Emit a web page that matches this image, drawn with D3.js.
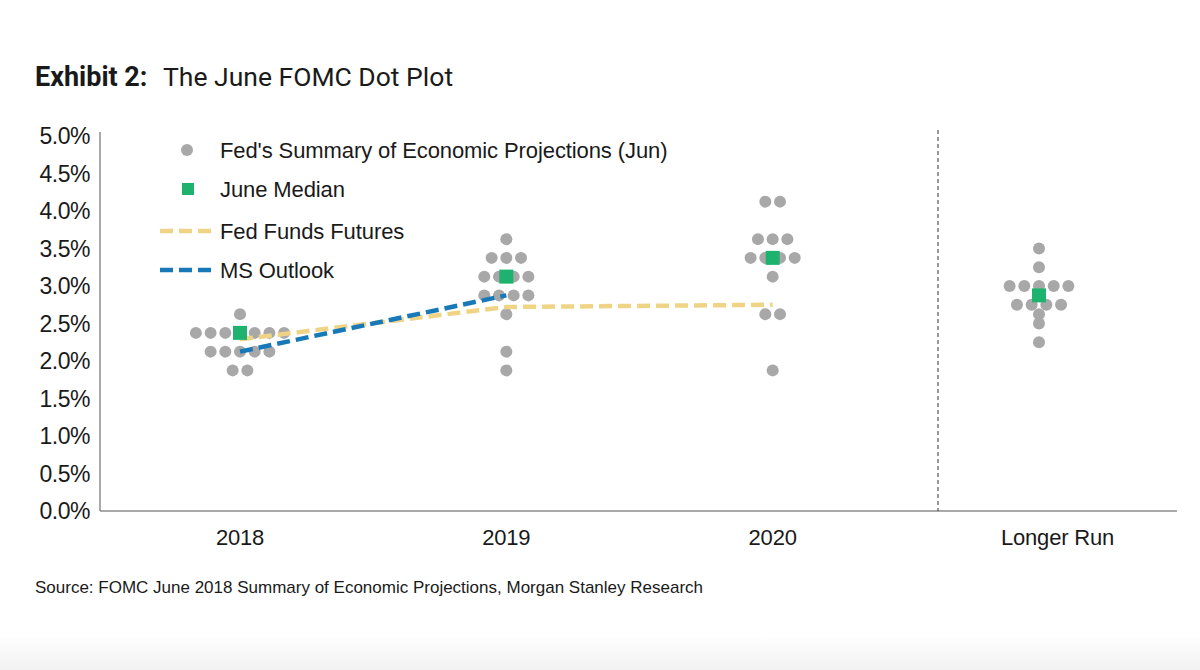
<!DOCTYPE html>
<html>
<head>
<meta charset="utf-8">
<script src="https://cdn.jsdelivr.net/npm/d3@7"></script>
<style>
  html, body { margin: 0; padding: 0; background: #fff; }
  svg { display: block; }
  text { font-family: "Liberation Sans", Arial, sans-serif; fill: #1a1a1a; }
</style>
</head>
<body>
<svg id="chart" width="1200" height="670"></svg>
<script>
// ---- data ----
const categories = ["2018", "2019", "2020", "Longer Run"];
const yTicks = [0, 0.5, 1, 1.5, 2, 2.5, 3, 3.5, 4, 4.5, 5];
// participant projections: [rate, count] per category
const dots2018 = [[2.625, 1], [2.375, 7], [2.125, 5], [1.875, 2]];
const dots2019 = [[3.625, 1], [3.375, 3], [3.125, 4], [2.875, 4], [2.625, 1], [2.125, 1], [1.875, 1]];
const dots2020 = [[4.125, 2], [3.625, 3], [3.375, 4], [3.125, 1], [2.625, 2], [1.875, 1]];
const dotsLonger = [[3.5, 1], [3.25, 1], [3.0, 5], [2.875, 1], [2.75, 4], [2.625, 1], [2.5, 1], [2.25, 1]];
const medians = [2.375, 3.125, 3.375, 2.875];
const futuresCats = ["2018", "2019", "2020"];
const futuresVals = [2.29, 2.72, 2.75];
const msCats = ["2018", "2019"];
const msVals = [2.125, 2.875];
const legendLabels = ["Fed's Summary of Economic Projections (Jun)", "June Median", "Fed Funds Futures", "MS Outlook"];

const dotSets = [dots2018, dots2019, dots2020, dotsLonger];

// ---- layout ----
const svg = d3.select("#chart");
const plotLeft = 100, plotRight = 1177, plotTop = 136, plotBottom = 511;
const dividerX = 938;

const x = d3.scalePoint().domain(categories).range([240, 1039]);
const y = d3.scaleLinear().domain([0, 5]).range([plotBottom, plotTop]);

const gray = "#a8a8a8", green = "#1db36e", yellow = "#f0d486", blue = "#1779b8";
const dotR = 6, dotStep = 14.7, sq = 14;

// bottom fade
const defs = svg.append("defs");
const grad = defs.append("linearGradient").attr("id", "fade").attr("x1", 0).attr("y1", 0).attr("x2", 0).attr("y2", 1);
grad.append("stop").attr("offset", "0%").attr("stop-color", "#ffffff");
grad.append("stop").attr("offset", "100%").attr("stop-color", "#f2f2f2");
svg.append("rect").attr("x", 0).attr("y", 635).attr("width", 1200).attr("height", 35).attr("fill", "url(#fade)");

// title
svg.append("text").attr("x", 35).attr("y", 86).style("font-family", "Roboto, sans-serif")
  .style("font-size", "27px").style("font-weight", "bold").attr("fill", "#333")
  .text("Exhibit 2:");
svg.append("text").attr("x", 163).attr("y", 86).style("font-family", "Roboto, sans-serif")
  .style("font-size", "26.5px").text("The June FOMC Dot Plot");

// y axis labels
svg.append("g").selectAll("text").data(yTicks).join("text")
  .attr("x", 90).attr("y", d => y(d)).attr("dy", "0.35em")
  .attr("text-anchor", "end").style("font-size", "23px").style("letter-spacing", "-0.5px")
  .text(d => d3.format(".1f")(d) + "%");

// axes lines
svg.append("line").attr("x1", plotLeft).attr("x2", plotLeft).attr("y1", plotTop - 4).attr("y2", plotBottom)
  .attr("stroke", "#8c8c8c").attr("stroke-width", 1.5);
svg.append("line").attr("x1", plotLeft).attr("x2", plotRight).attr("y1", plotBottom).attr("y2", plotBottom)
  .attr("stroke", "#8c8c8c").attr("stroke-width", 1.5);
svg.append("line").attr("x1", dividerX).attr("x2", dividerX).attr("y1", plotTop - 6).attr("y2", plotBottom)
  .attr("stroke", "#333").attr("stroke-width", 1).attr("stroke-dasharray", "4,3");

// x labels: last one centred in the region right of the divider
svg.append("g").selectAll("text").data(categories).join("text")
  .attr("x", (d, i) => i === categories.length - 1 ? (dividerX + plotRight) / 2 : x(d))
  .attr("y", 545).attr("text-anchor", "middle").style("font-size", "22px").style("letter-spacing", "-0.2px")
  .text(d => d);

// dots
const dotData = [];
dotSets.forEach((set, ci) => {
  set.forEach(([v, n]) => {
    for (let k = 0; k < n; k++) {
      dotData.push({ cat: categories[ci], v, off: (k - (n - 1) / 2) * dotStep });
    }
  });
});
svg.append("g").selectAll("circle").data(dotData).join("circle")
  .attr("cx", d => x(d.cat) + d.off).attr("cy", d => y(d.v)).attr("r", dotR).attr("fill", gray);

// lines
const line = d3.line().x(d => x(d[0])).y(d => y(d[1]));
svg.append("path").datum(futuresCats.map((c, i) => [c, futuresVals[i]]))
  .attr("d", line).attr("fill", "none").attr("stroke", yellow).attr("stroke-width", 4.5)
  .attr("stroke-dasharray", "13,6");
svg.append("path").datum(msCats.map((c, i) => [c, msVals[i]]))
  .attr("d", line).attr("fill", "none").attr("stroke", blue).attr("stroke-width", 4.5)
  .attr("stroke-dasharray", "13,6");

// medians
svg.append("g").selectAll("rect").data(medians).join("rect")
  .attr("x", (d, i) => x(categories[i]) - sq / 2).attr("y", d => y(d) - sq / 2)
  .attr("width", sq).attr("height", sq).attr("fill", green);

// legend
const leg = svg.append("g");
const legY = [150, 189, 231, 270];
leg.append("circle").attr("cx", 187).attr("cy", legY[0]).attr("r", dotR).attr("fill", gray);
leg.append("rect").attr("x", 182).attr("y", legY[1] - 6).attr("width", 12).attr("height", 12).attr("fill", green);
leg.append("line").attr("x1", 160).attr("x2", 214).attr("y1", legY[2]).attr("y2", legY[2])
  .attr("stroke", yellow).attr("stroke-width", 4.5).attr("stroke-dasharray", "13,6");
leg.append("line").attr("x1", 160).attr("x2", 214).attr("y1", legY[3]).attr("y2", legY[3])
  .attr("stroke", blue).attr("stroke-width", 4.5).attr("stroke-dasharray", "13,6");
leg.selectAll("text").data(legendLabels).join("text")
  .attr("x", 220).attr("y", (d, i) => legY[i]).attr("dy", "0.36em")
  .style("font-size", "22px").style("letter-spacing", "-0.1px").text(d => d);

// source
svg.append("text").attr("x", 35).attr("y", 593).style("font-size", "17px")
  .attr("fill", "#333").text("Source: FOMC June 2018 Summary of Economic Projections, Morgan Stanley Research");
</script>
</body>
</html>
